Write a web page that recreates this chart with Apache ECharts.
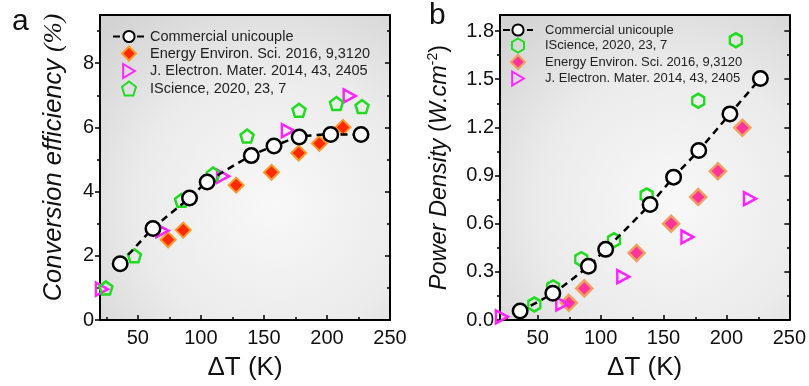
<!DOCTYPE html>
<html>
<head>
<meta charset="utf-8">
<script src="https://cdn.jsdelivr.net/npm/echarts@6/dist/echarts.min.js"></script>
<style>html,body{margin:0;padding:0;background:#fff}#c{width:809px;height:386px}</style>
</head>
<body>
<div id="c"></div>
<script>
// ---- Panel a: conversion efficiency (%) vs dT (K)
const aCommercial = [[36,1.75],[62,2.85],[91,3.8],[105,4.3],[140,5.12],[158,5.42],[178,5.7],[203,5.78],[227,5.78]];
const aEES = [[74,2.5],[86,2.8],[128,4.2],[156,4.6],[177.6,5.2],[194,5.5],[212.7,6.0]];
const aJEM = [[21.5,0.96],[69.5,2.78],[117.6,4.48],[169,5.9],[218,6.98]];
const aISci = [[24.7,1.0],[47.3,2.0],[84.6,3.73],[109.8,4.55],[136.6,5.73],[177.8,6.53],[207.5,6.74],[227.8,6.65]];
// ---- Panel b: power density (W.cm-2) vs dT (K)
const bCommercial = [[36,0.056],[62,0.166],[90.3,0.335],[104,0.44],[139.3,0.72],[158,0.89],[178,1.056],[202.8,1.284],[227,1.505]];
const bISci = [[47.3,0.097],[62.2,0.203],[84.6,0.379],[110.6,0.497],[136.6,0.776],[177.6,1.366],[207.5,1.743]];
const bEES = [[74.7,0.107],[87,0.197],[128.6,0.418],[156,0.6],[177.6,0.766],[193.2,0.927],[212.7,1.197]];
const bJEM = [[21.5,0.02],[69.5,0.1],[118,0.27],[169,0.517],[218.7,0.756]];
// ---- tick labels
const xTicks = [50,100,150,200,250];
const xMinor = [25,75,125,175,225];
const aYTicks = [0,2,4,6,8];
const aYMinor = [1,3,5,7,9];
const bYTicks = [0,0.3,0.6,0.9,1.2,1.5,1.8];
const bYMinor = [0.15,0.45,0.75,1.05,1.35,1.65];
const names = ['Commercial unicouple','Energy Environ. Sci. 2016, 9,3120','J. Electron. Mater. 2014, 43, 2405','IScience, 2020, 23, 7'];

const FONT = 'Liberation Sans';
const triR = 'path://M0,0L10,6L0,12Z';
const pent = 'path://M5,0L10,3.8L8.1,10L1.9,10L0,3.8Z';
const hexa = 'path://M5,0L10,2.9L10,8.7L5,11.6L0,8.7L0,2.9Z';
const diam = 'path://M5,0L10,5L5,10L0,5Z';
const bg = {type:'radial',x:0.6,y:0.62,r:0.85,colorStops:[{offset:0,color:'#f8f8f8'},{offset:0.55,color:'#ebebeb'},{offset:1,color:'#d2d2d2'}]};

const gA = {left:100,top:15,width:290,height:305};
const gB = {left:500,top:15,width:290,height:305};

function xMain(gi){return {type:'value',gridIndex:gi,min:20,max:250,position:'bottom',
  axisLine:{show:true,onZero:false,lineStyle:{color:'#000',width:2}},
  axisTick:{show:true,inside:true,length:5,customValues:xTicks,lineStyle:{color:'#000',width:1.5}},
  axisLabel:{show:true,customValues:xTicks,fontSize:20,color:'#111',fontFamily:FONT,margin:8},
  splitLine:{show:false},name:'\u0394T (K)',nameLocation:'middle',nameGap:35,
  nameTextStyle:{fontSize:26,color:'#111',fontFamily:FONT}};}
function xTop(gi){return {type:'value',gridIndex:gi,min:20,max:250,position:'top',
  axisLine:{show:true,onZero:false,lineStyle:{color:'#000',width:2}},axisTick:{show:false},axisLabel:{show:false},splitLine:{show:false}};}
function xMin(gi){return {type:'value',gridIndex:gi,min:20,max:250,position:'bottom',
  axisLine:{show:false},axisTick:{show:true,inside:true,length:3,customValues:xMinor,lineStyle:{color:'#000',width:1.5}},
  axisLabel:{show:false},splitLine:{show:false}};}
function yAxisDef(gi,max,ticks,len,pos,inside,labels,fmt){return {type:'value',gridIndex:gi,min:0,max:max,position:pos,
  axisLine:{show:labels!==null,onZero:false,lineStyle:{color:'#000',width:2}},
  axisTick:{show:true,inside:inside,length:len,customValues:ticks,lineStyle:{color:'#000',width:1.5}},
  axisLabel:labels?{show:true,customValues:ticks,fontSize:20,color:'#111',fontFamily:FONT,margin:6,formatter:fmt}:{show:false},
  splitLine:{show:false}};}

const yA = yAxisDef(0,9.5,aYTicks,5,'left',false,true,v=>String(v));
yA.name='{i|Conversion efficiency }{p|(%)}';yA.nameLocation='middle';yA.nameGap=33;
yA.nameTextStyle={fontSize:25.5,color:'#111',fontFamily:FONT,padding:[0,0,0,20],rich:{
  i:{fontSize:25.5,fontStyle:'italic',fontFamily:FONT,color:'#111'},
  p:{fontSize:25.5,fontStyle:'italic',fontFamily:'Liberation Serif',color:'#111'}}};
const yB = yAxisDef(1,1.9,bYTicks,5,'left',false,true,v=>v.toFixed(1));
yB.name='{i|Power Density} {n|(}{i|W.cm}{s|-2}{n|)}';yB.nameLocation='middle';yB.nameGap=47;
yB.nameTextStyle={fontSize:23.5,color:'#111',fontFamily:FONT,rich:{
  i:{fontSize:23.5,fontStyle:'italic',fontFamily:FONT,color:'#111'},
  n:{fontSize:23.5,fontFamily:FONT,color:'#111'},
  s:{fontSize:14,fontFamily:FONT,color:'#111',padding:[0,0,13,0]}}};

const circ = {symbol:'circle',symbolSize:14.5,itemStyle:{color:'#fff',borderColor:'#000',borderWidth:2.5}};
function lineSeries(name,data,xi,yi){return Object.assign({type:'line',name:name,data:data,xAxisIndex:xi,yAxisIndex:yi,z:5,
  smooth:0.25,lineStyle:{color:'#000',width:2.5,type:[7,5]}},JSON.parse(JSON.stringify(circ)));}
function scat(name,data,xi,yi,sym,size,fill,border,bw){return {type:'scatter',name:name,data:data,xAxisIndex:xi,yAxisIndex:yi,z:3,
  symbol:sym,symbolSize:size,itemStyle:{color:fill,borderColor:border,borderWidth:bw,opacity:1}};}

const green='#1fdc1f', mag='#ff22ff';
const option = {
  backgroundColor:'#fff',animation:false,
  title:[{text:'a',left:7,top:2,textStyle:{fontSize:30,fontWeight:'normal',color:'#111',fontFamily:FONT}},
         {text:'b',left:424,top:-4,textStyle:{fontSize:30,fontWeight:'normal',color:'#111',fontFamily:FONT}}],
  grid:[Object.assign({show:true,backgroundColor:bg,borderWidth:0},gA),
        Object.assign({show:true,backgroundColor:bg,borderWidth:0},gB),
        Object.assign({show:false},gA),Object.assign({show:false},gB)],
  xAxis:[xMain(0),xTop(0),xMain(1),xTop(1),xMin(2),xMin(3)],
  yAxis:[yA,yAxisDef(0,9.5,aYTicks,5,'right',true,false),yB,yAxisDef(1,1.9,bYTicks,5,'right',true,false),
         yAxisDef(2,9.5,aYMinor,3,'left',false,null),yAxisDef(2,9.5,aYMinor,3,'right',true,null),
         yAxisDef(3,1.9,bYMinor,3,'left',false,null),yAxisDef(3,1.9,bYMinor,3,'right',true,null)],
  legend:[
    {data:names,orient:'vertical',left:112,top:29,padding:0,itemGap:1.5,itemWidth:32,itemHeight:14,
     textStyle:{fontSize:14.5,lineHeight:14,color:'#222',fontFamily:FONT},selectedMode:false},
    {data:[0,3,1,2].map(i=>names[i]+'\u200b'),orient:'vertical',left:502,top:23,padding:0,itemGap:0.5,itemWidth:30,itemHeight:14,
     formatter:n=>n.replace('\u200b',''),textStyle:{fontSize:13,lineHeight:14,color:'#222',fontFamily:FONT,padding:[0,0,0,7]},selectedMode:false}
  ],
  series:[
    scat(names[1],aEES,0,0,diam,15,'#ff2a00','#ff9a2a',2),
    scat(names[2],aJEM,0,0,triR,[12,13],'rgba(0,0,0,0)',mag,2.5),
    scat(names[3],aISci,0,0,pent,[13,13],'rgba(0,0,0,0)',green,2.5),
    lineSeries(names[0],aCommercial,0,0),
    scat(names[3]+'\u200b',bISci,2,2,hexa,[12,14],'rgba(0,0,0,0)',green,2.5),
    scat(names[1]+'\u200b',bEES,2,2,diam,16,'#ff3399','#f0a060',2.5),
    scat(names[2]+'\u200b',bJEM,2,2,triR,[12,13],'rgba(0,0,0,0)',mag,2.5),
    lineSeries(names[0]+'\u200b',bCommercial,2,2)
  ]
};
echarts.init(document.getElementById('c')).setOption(option);
</script>
</body>
</html>
